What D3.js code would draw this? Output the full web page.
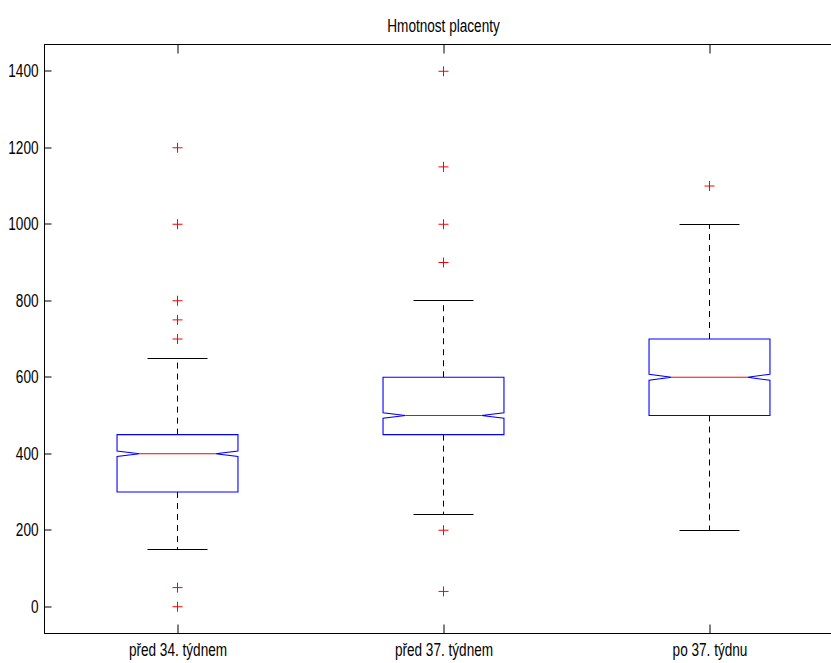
<!DOCTYPE html>
<html>
<head>
<meta charset="utf-8">
<script src="https://cdn.jsdelivr.net/npm/d3@7"></script>
<style>
  body { margin: 0; background: #fff; }
  svg { display: block; }
  text { font-family: "Liberation Sans", Arial, sans-serif; fill: #000; }
</style>
</head>
<body>
<div id="chart"></div>
<script>
const title = 'Hmotnost placenty';
const categories = ['před 34. týdnem', 'před 37. týdnem', 'po 37. týdnu'];
const q1 = [300, 450, 500];
const medians = [400, 500, 600];
const q3 = [450, 600, 700];
const whiskerLo = [150, 240, 200];
const whiskerHi = [650, 800, 1000];
const notchHalf = [7, 7, 8];
const outliers = [
  [1200, 1000, 800, 750, 700, 50, 0],
  [1400, 1150, 1000, 900, 200, 40],
  [1100]
];
const yTicks = [0, 200, 400, 600, 800, 1000, 1200, 1400];

const width = 831;
const height = 663;
const plotL = 44.5, plotT = 44.5, plotR = 842.5, plotB = 633.5;
const fontSize = '18.5px';
const squeeze = 0.735; // text is tall and narrow in the original

const x = d3.scaleLinear().domain([0.5, 3.5]).range([plotL, plotR]);
const y = d3.scaleLinear().domain([-70, 1470]).range([plotB, plotT]);
const snap = v => Math.round(v - 0.5) + 0.5;

const boxHalf = 0.2273;   // half box width, in x units
const capHalf = 0.1127;
const notchDepth = 0.0845;

const svg = d3.select('#chart').append('svg')
  .attr('width', width)
  .attr('height', height);

// frame
svg.append('rect')
  .attr('x', plotL).attr('y', plotT)
  .attr('width', plotR - plotL).attr('height', plotB - plotT)
  .attr('fill', 'none').attr('stroke', '#000').attr('stroke-width', 1);

// axes (ticks point inwards)
const yAxis = d3.axisLeft(y).tickValues(yTicks).tickFormat(d3.format('d'))
  .tickSizeInner(-7).tickSizeOuter(0);
const gy = svg.append('g').attr('transform', `translate(${plotL},0)`).call(yAxis);
gy.select('.domain').remove();
gy.selectAll('text')
  .style('font-size', fontSize)
  .attr('x', -6 / squeeze)
  .attr('transform', `scale(${squeeze},1)`);

const xAxis = d3.axisBottom(x).tickValues([1, 2, 3])
  .tickFormat((d, i) => categories[i])
  .tickSizeInner(-9).tickSizeOuter(0);
const gx = svg.append('g').attr('transform', `translate(0,${plotB})`).call(xAxis);
gx.select('.domain').remove();
gx.selectAll('text')
  .style('font-size', fontSize)
  .attr('y', 23).attr('dy', null)
  .attr('transform', `scale(${squeeze},1)`);

const gxTop = svg.append('g').attr('transform', `translate(0,${plotT})`)
  .call(d3.axisTop(x).tickValues([1, 2, 3]).tickFormat('').tickSizeInner(-9).tickSizeOuter(0));
gxTop.select('.domain').remove();

svg.selectAll('.tick line').attr('stroke', '#000');
svg.selectAll('.tick').attr('transform', function () {
  const t = d3.select(this).attr('transform');
  const m = /translate\(([-\d.]+),\s*([-\d.]+)\)/.exec(t);
  return m ? `translate(${snap(+m[1]) - 0.5},${snap(+m[2]) - 0.5})` : t;
});

// title
svg.append('text')
  .attr('transform', `translate(${(plotL + plotR) / 2},32) scale(${squeeze},1)`)
  .attr('text-anchor', 'middle')
  .style('font-size', fontSize)
  .text(title);

const boxes = svg.append('g');

categories.forEach((c, i) => {
  const cx = i + 1;
  const mx = snap(x(cx));
  const lb = x(cx - boxHalf), ub = x(cx + boxHalf);
  const nl = x(cx - boxHalf + notchDepth), nr = x(cx + boxHalf - notchDepth);
  const n1 = y(medians[i] + notchHalf[i]), n2 = y(medians[i] - notchHalf[i]);
  const m = y(medians[i]);
  const yq1 = y(q1[i]), yq3 = y(q3[i]);

  // whiskers (black, pixel aligned)
  boxes.append('line')
    .attr('x1', mx).attr('x2', mx)
    .attr('y1', yq3).attr('y2', snap(y(whiskerHi[i])))
    .attr('stroke', '#000').attr('stroke-dasharray', '6,5');
  boxes.append('line')
    .attr('x1', mx).attr('x2', mx)
    .attr('y1', yq1).attr('y2', snap(y(whiskerLo[i])))
    .attr('stroke', '#000').attr('stroke-dasharray', '6,5');
  [whiskerHi[i], whiskerLo[i]].forEach(v => {
    boxes.append('line')
      .attr('x1', snap(x(cx - capHalf))).attr('x2', snap(x(cx + capHalf)))
      .attr('y1', snap(y(v))).attr('y2', snap(y(v)))
      .attr('stroke', '#000');
  });

  // notched box
  const pts = [
    [lb, yq3], [ub, yq3], [ub, n1], [nr, m], [ub, n2], [ub, yq1],
    [lb, yq1], [lb, n2], [nl, m], [lb, n1]
  ];
  boxes.append('path')
    .attr('d', d3.line()(pts) + 'Z')
    .attr('fill', 'none').attr('stroke', '#0000ff').attr('stroke-width', 1.1);

  boxes.append('line')
    .attr('x1', nl).attr('x2', nr)
    .attr('y1', m).attr('y2', m)
    .attr('stroke', '#ff0000');

  // outliers
  outliers[i].forEach(v => {
    const px = x(cx), py = y(v);
    boxes.append('path')
      .attr('d', `M${px - 5},${py}H${px + 5}M${px},${py - 5}V${py + 5}`)
      .attr('stroke', '#ff0000').attr('fill', 'none');
  });
});
</script>
</body>
</html>
